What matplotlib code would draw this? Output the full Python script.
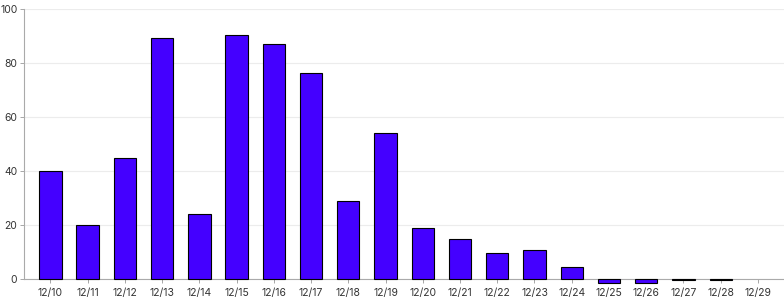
import matplotlib.pyplot as plt

# dates and daily values
dates = ['12/10', '12/11', '12/12', '12/13', '12/14', '12/15', '12/16', '12/17', '12/18', '12/19',
         '12/20', '12/21', '12/22', '12/23', '12/24', '12/25', '12/26', '12/27', '12/28', '12/29']
values = [40, 20, 45, 89.3, 24, 90.3, 87, 76.4, 29, 54.2,
          19, 15, 9.8, 10.8, 4.5, -1.3, -1.3, -0.4, -0.3, 0]

plt.rcParams['font.family'] = ['Inter', 'DejaVu Sans']

fig = plt.figure(figsize=(7.84, 3.0), dpi=100)
ax = fig.add_axes([0.031, 0.07, 0.969, 0.9])

x = range(len(dates))
bars = ax.bar(x, values, width=0.6, color='#4400ff', edgecolor='black', linewidth=0.8, zorder=3)
for b, v in zip(bars, values):
    b.set_clip_on(False)
    if v == 0:
        b.set_linewidth(0)

ax.set_xlim(-0.7, len(dates) - 0.3)
ax.set_ylim(0, 100)
ax.set_yticks([0, 20, 40, 60, 80, 100])
ax.set_xticks(list(x))
ax.set_xticklabels(dates)
ax.tick_params(axis='both', labelsize=7.5, length=3, width=0.6)
ax.tick_params(axis='x', colors='#999999', labelcolor='#333333')
ax.tick_params(axis='y', colors='#999999', labelcolor='#333333', pad=2)

ax.grid(axis='y', color='#ececec', linewidth=0.8, zorder=0)
for side in ['top', 'right']:
    ax.spines[side].set_visible(False)
ax.spines['left'].set_color('#aaaaaa')
ax.spines['bottom'].set_color('#aaaaaa')
ax.spines['bottom'].set_zorder(2)

fig.savefig('out.png', dpi=100)
